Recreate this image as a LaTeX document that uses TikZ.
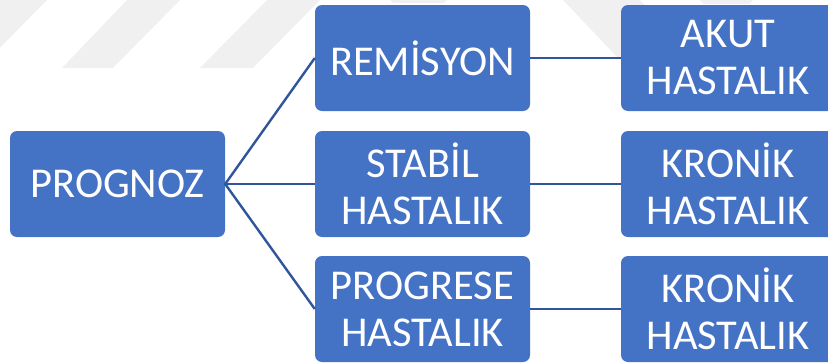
\documentclass[tikz,border=0pt]{standalone}
\usepackage{fontspec}
\setmainfont{Carlito}
\definecolor{boxblue}{HTML}{4472C4}
\definecolor{linkblue}{HTML}{2F569B}
\definecolor{markgray}{HTML}{F0F0F0}
\tikzset{
  card/.style={rectangle, rounded corners=7pt, fill=boxblue, text=white,
    minimum width=215pt, minimum height=106pt, inner sep=0pt, align=center,
    font=\fontsize{42.5}{47}\selectfont},
  link/.style={draw=linkblue, line width=2.4pt}
}
\begin{document}
\begin{tikzpicture}[x=1pt, y=-1pt]
  \useasboundingbox (0,0) rectangle (828,362);
  \clip (0,0) rectangle (828,362);
  % faint background emblem
  \fill[markgray] (-13,0) -- (47,0) -- (-20,68) -- (-80,68) -- cycle;
  \fill[markgray] (127,0) -- (180,0) -- (113,68) -- (62,68) -- cycle;
  \fill[markgray] (267,0) -- (320,0) -- (253,68) -- (200,68) -- cycle;
  \fill[markgray] (390,0) -- (447,0) -- (444,3) -- (393,3) -- cycle;
  \fill[markgray] (563,0) -- (640,0) -- (694,57) -- (617,57) -- cycle;
  \fill[markgray] (700,0) -- (753,0) -- (750,4) -- (703,4) -- cycle;
  % boxes
  \node[card] (root) at (117.5,184) {PROGNOZ};
  \node[card] (m1) at (422.5,58) {REMİSYON};
  \node[card] (m2) at (422.5,184) {STABİL\\HASTALIK};
  \node[card] (m3) at (422.5,309) {PROGRESE\\HASTALIK};
  \node[card, minimum width=214pt] (r1) at (728,58) {AKUT\\HASTALIK};
  \node[card, minimum width=214pt] (r2) at (728,184) {KRONİK\\HASTALIK};
  \node[card, minimum width=214pt] (r3) at (728,309) {KRONİK\\HASTALIK};
  % connectors
  \draw[link] (m1.west) -- (root.east) -- (m3.west);
  \draw[link] (root.east) -- (m2.west);
  \draw[link] (m1.east) -- (r1.west);
  \draw[link] (m2.east) -- (r2.west);
  \draw[link] (m3.east) -- (r3.west);
\end{tikzpicture}
\end{document}
